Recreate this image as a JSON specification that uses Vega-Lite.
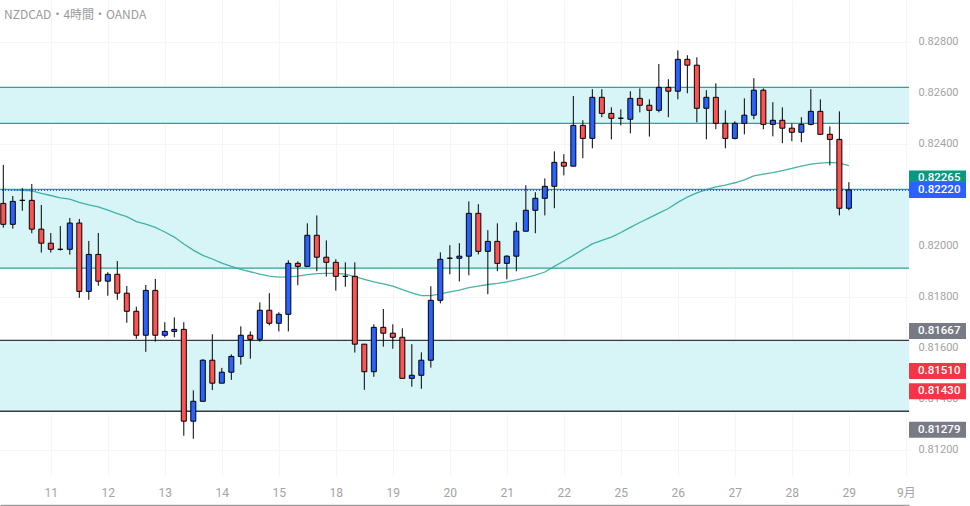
{
  "$schema": "https://vega.github.io/schema/vega-lite/v6.json",
  "width": 909,
  "height": 476,
  "autosize": {"type": "none"},
  "padding": {"left": 0, "top": 0, "right": 61, "bottom": 30},
  "background": "#ffffff",
  "title": {
    "text": "NZDCAD・4時間・OANDA",
    "anchor": "start",
    "frame": "group",
    "orient": "top",
    "offset": -22,
    "dx": 4,
    "font": "Noto Sans CJK JP",
    "fontSize": 12,
    "fontWeight": "normal",
    "color": "#9a9a9a"
  },
  "config": {
    "view": {"stroke": null},
    "axis": {
      "labelFont": "Roboto, Noto Sans CJK JP",
      "labelFontSize": 11,
      "labelColor": "#a3a3a3",
      "ticks": false,
      "tickSize": 0,
      "title": null,
      "gridColor": "#f4f5f7",
      "labelOverlap": false,
      "labelFlush": false
    }
  },
  "datasets": {
    "candles": [
      {"i": 0, "o": 0.82167, "h": 0.82318, "l": 0.82072, "c": 0.82085, "ma": 0.82222},
      {"i": 1, "o": 0.82085, "h": 0.82196, "l": 0.82068, "c": 0.82175, "ma": 0.8222},
      {"i": 2, "o": 0.82179, "h": 0.82227, "l": 0.82138, "c": 0.82179, "ma": 0.82218},
      {"i": 3, "o": 0.82179, "h": 0.82243, "l": 0.8205, "c": 0.82066, "ma": 0.82216},
      {"i": 4, "o": 0.82066, "h": 0.82161, "l": 0.81974, "c": 0.82011, "ma": 0.82206},
      {"i": 5, "o": 0.82011, "h": 0.82051, "l": 0.81974, "c": 0.81987, "ma": 0.82198},
      {"i": 6, "o": 0.81987, "h": 0.82078, "l": 0.81982, "c": 0.81987, "ma": 0.82189},
      {"i": 7, "o": 0.81987, "h": 0.8211, "l": 0.81966, "c": 0.8209, "ma": 0.82184},
      {"i": 8, "o": 0.8209, "h": 0.82106, "l": 0.81797, "c": 0.81822, "ma": 0.82171},
      {"i": 9, "o": 0.81822, "h": 0.8202, "l": 0.81789, "c": 0.81967, "ma": 0.82161},
      {"i": 10, "o": 0.81967, "h": 0.82051, "l": 0.81844, "c": 0.81862, "ma": 0.82153},
      {"i": 11, "o": 0.81862, "h": 0.81897, "l": 0.81805, "c": 0.81889, "ma": 0.82141},
      {"i": 12, "o": 0.81889, "h": 0.81941, "l": 0.81789, "c": 0.81815, "ma": 0.82127},
      {"i": 13, "o": 0.81815, "h": 0.81843, "l": 0.81699, "c": 0.81744, "ma": 0.82115},
      {"i": 14, "o": 0.81744, "h": 0.81762, "l": 0.81636, "c": 0.8165, "ma": 0.82096},
      {"i": 15, "o": 0.8165, "h": 0.81847, "l": 0.81585, "c": 0.81826, "ma": 0.82086},
      {"i": 16, "o": 0.81826, "h": 0.81871, "l": 0.81625, "c": 0.8165, "ma": 0.82073},
      {"i": 17, "o": 0.8165, "h": 0.81701, "l": 0.81642, "c": 0.81665, "ma": 0.82055},
      {"i": 18, "o": 0.81665, "h": 0.8172, "l": 0.81642, "c": 0.81673, "ma": 0.82035},
      {"i": 19, "o": 0.81673, "h": 0.81701, "l": 0.81256, "c": 0.81313, "ma": 0.82008},
      {"i": 20, "o": 0.81313, "h": 0.81434, "l": 0.81244, "c": 0.81391, "ma": 0.81984},
      {"i": 21, "o": 0.81391, "h": 0.81556, "l": 0.81391, "c": 0.81552, "ma": 0.81963},
      {"i": 22, "o": 0.81552, "h": 0.81654, "l": 0.81435, "c": 0.81462, "ma": 0.81949},
      {"i": 23, "o": 0.81462, "h": 0.81522, "l": 0.81462, "c": 0.81505, "ma": 0.81933},
      {"i": 24, "o": 0.81505, "h": 0.81575, "l": 0.81475, "c": 0.81567, "ma": 0.8192},
      {"i": 25, "o": 0.81567, "h": 0.81685, "l": 0.81535, "c": 0.8165, "ma": 0.81908},
      {"i": 26, "o": 0.8165, "h": 0.81665, "l": 0.81558, "c": 0.81634, "ma": 0.81899},
      {"i": 27, "o": 0.81634, "h": 0.81779, "l": 0.81625, "c": 0.81748, "ma": 0.8189},
      {"i": 28, "o": 0.81748, "h": 0.81815, "l": 0.81689, "c": 0.81697, "ma": 0.81882},
      {"i": 29, "o": 0.81697, "h": 0.8174, "l": 0.81665, "c": 0.81732, "ma": 0.81878},
      {"i": 30, "o": 0.81732, "h": 0.81944, "l": 0.81665, "c": 0.81932, "ma": 0.81879},
      {"i": 31, "o": 0.81932, "h": 0.8194, "l": 0.81846, "c": 0.8192, "ma": 0.81882},
      {"i": 32, "o": 0.8192, "h": 0.82089, "l": 0.8192, "c": 0.82042, "ma": 0.81888},
      {"i": 33, "o": 0.82042, "h": 0.8212, "l": 0.81901, "c": 0.81956, "ma": 0.81892},
      {"i": 34, "o": 0.81956, "h": 0.82022, "l": 0.8188, "c": 0.81936, "ma": 0.81893},
      {"i": 35, "o": 0.81936, "h": 0.81948, "l": 0.81825, "c": 0.81881, "ma": 0.81893},
      {"i": 36, "o": 0.81881, "h": 0.81936, "l": 0.8184, "c": 0.81881, "ma": 0.8189},
      {"i": 37, "o": 0.81881, "h": 0.81936, "l": 0.81582, "c": 0.81615, "ma": 0.8188},
      {"i": 38, "o": 0.81615, "h": 0.81615, "l": 0.81436, "c": 0.81507, "ma": 0.81869},
      {"i": 39, "o": 0.81507, "h": 0.81693, "l": 0.81487, "c": 0.81681, "ma": 0.81859},
      {"i": 40, "o": 0.81681, "h": 0.81753, "l": 0.81605, "c": 0.81658, "ma": 0.81851},
      {"i": 41, "o": 0.81658, "h": 0.81693, "l": 0.81597, "c": 0.81642, "ma": 0.81843},
      {"i": 42, "o": 0.81642, "h": 0.81677, "l": 0.81481, "c": 0.81481, "ma": 0.81829},
      {"i": 43, "o": 0.81481, "h": 0.81615, "l": 0.81448, "c": 0.81493, "ma": 0.81816},
      {"i": 44, "o": 0.81493, "h": 0.81583, "l": 0.8144, "c": 0.81552, "ma": 0.81805},
      {"i": 45, "o": 0.81552, "h": 0.81842, "l": 0.81523, "c": 0.81787, "ma": 0.81805},
      {"i": 46, "o": 0.81787, "h": 0.81975, "l": 0.81775, "c": 0.81948, "ma": 0.81812},
      {"i": 47, "o": 0.81952, "h": 0.82003, "l": 0.81889, "c": 0.81952, "ma": 0.8182},
      {"i": 48, "o": 0.81952, "h": 0.82011, "l": 0.81861, "c": 0.8196, "ma": 0.81827},
      {"i": 49, "o": 0.8196, "h": 0.82175, "l": 0.81885, "c": 0.82128, "ma": 0.81837},
      {"i": 50, "o": 0.82128, "h": 0.82164, "l": 0.81967, "c": 0.81979, "ma": 0.81843},
      {"i": 51, "o": 0.81979, "h": 0.82062, "l": 0.81811, "c": 0.82018, "ma": 0.81849},
      {"i": 52, "o": 0.82018, "h": 0.82089, "l": 0.81901, "c": 0.81932, "ma": 0.81853},
      {"i": 53, "o": 0.81932, "h": 0.81964, "l": 0.81869, "c": 0.8196, "ma": 0.81859},
      {"i": 54, "o": 0.8196, "h": 0.82093, "l": 0.81901, "c": 0.82058, "ma": 0.81867},
      {"i": 55, "o": 0.82058, "h": 0.82238, "l": 0.82058, "c": 0.8214, "ma": 0.81876},
      {"i": 56, "o": 0.8214, "h": 0.82211, "l": 0.8205, "c": 0.82187, "ma": 0.81886},
      {"i": 57, "o": 0.82187, "h": 0.82265, "l": 0.8212, "c": 0.82234, "ma": 0.81898},
      {"i": 58, "o": 0.82234, "h": 0.82371, "l": 0.82148, "c": 0.82328, "ma": 0.8192},
      {"i": 59, "o": 0.82328, "h": 0.8236, "l": 0.82277, "c": 0.82313, "ma": 0.81941},
      {"i": 60, "o": 0.82313, "h": 0.82588, "l": 0.82313, "c": 0.82473, "ma": 0.81963},
      {"i": 61, "o": 0.82473, "h": 0.82493, "l": 0.82344, "c": 0.82422, "ma": 0.81986},
      {"i": 62, "o": 0.82422, "h": 0.82615, "l": 0.82383, "c": 0.82583, "ma": 0.82008},
      {"i": 63, "o": 0.82583, "h": 0.82615, "l": 0.82505, "c": 0.8252, "ma": 0.82022},
      {"i": 64, "o": 0.8252, "h": 0.82544, "l": 0.82418, "c": 0.82501, "ma": 0.82035},
      {"i": 65, "o": 0.82501, "h": 0.82536, "l": 0.82473, "c": 0.82501, "ma": 0.82053},
      {"i": 66, "o": 0.82497, "h": 0.82607, "l": 0.82442, "c": 0.82579, "ma": 0.82073},
      {"i": 67, "o": 0.82579, "h": 0.82618, "l": 0.82524, "c": 0.82552, "ma": 0.82092},
      {"i": 68, "o": 0.82552, "h": 0.82575, "l": 0.82429, "c": 0.82532, "ma": 0.8211},
      {"i": 69, "o": 0.82532, "h": 0.82714, "l": 0.82524, "c": 0.82622, "ma": 0.82129},
      {"i": 70, "o": 0.82622, "h": 0.82654, "l": 0.82505, "c": 0.82607, "ma": 0.82147},
      {"i": 71, "o": 0.82607, "h": 0.82767, "l": 0.82575, "c": 0.82732, "ma": 0.82171},
      {"i": 72, "o": 0.82732, "h": 0.82748, "l": 0.82599, "c": 0.82709, "ma": 0.82192},
      {"i": 73, "o": 0.82709, "h": 0.8274, "l": 0.82485, "c": 0.8254, "ma": 0.82208},
      {"i": 74, "o": 0.8254, "h": 0.82611, "l": 0.82418, "c": 0.82583, "ma": 0.82221},
      {"i": 75, "o": 0.82583, "h": 0.82638, "l": 0.82458, "c": 0.82481, "ma": 0.82232},
      {"i": 76, "o": 0.82481, "h": 0.82532, "l": 0.82383, "c": 0.82422, "ma": 0.82239},
      {"i": 77, "o": 0.82422, "h": 0.82489, "l": 0.82418, "c": 0.82481, "ma": 0.82248},
      {"i": 78, "o": 0.82481, "h": 0.82579, "l": 0.82438, "c": 0.82513, "ma": 0.82259},
      {"i": 79, "o": 0.82513, "h": 0.82658, "l": 0.82497, "c": 0.82611, "ma": 0.82275},
      {"i": 80, "o": 0.82611, "h": 0.82618, "l": 0.82458, "c": 0.82477, "ma": 0.82282},
      {"i": 81, "o": 0.82477, "h": 0.82564, "l": 0.8243, "c": 0.82493, "ma": 0.82288},
      {"i": 82, "o": 0.82493, "h": 0.82544, "l": 0.82403, "c": 0.82462, "ma": 0.82296},
      {"i": 83, "o": 0.82462, "h": 0.82481, "l": 0.82411, "c": 0.82446, "ma": 0.82304},
      {"i": 84, "o": 0.82446, "h": 0.82505, "l": 0.82407, "c": 0.82477, "ma": 0.82313},
      {"i": 85, "o": 0.82477, "h": 0.82615, "l": 0.82473, "c": 0.82528, "ma": 0.82321},
      {"i": 86, "o": 0.82528, "h": 0.82575, "l": 0.82438, "c": 0.82438, "ma": 0.82325},
      {"i": 87, "o": 0.82438, "h": 0.82469, "l": 0.82316, "c": 0.82418, "ma": 0.82328},
      {"i": 88, "o": 0.82418, "h": 0.82528, "l": 0.8212, "c": 0.82148, "ma": 0.82325},
      {"i": 89, "o": 0.82148, "h": 0.8225, "l": 0.8214, "c": 0.8222, "ma": 0.82315}
    ],
    "zones": [
      {"top": 0.82622, "bottom": 0.82481},
      {"top": 0.82222, "bottom": 0.81913},
      {"top": 0.8163, "bottom": 0.81352}
    ],
    "levels": [
      {"price": 0.82622, "kind": "upper"},
      {"price": 0.82481, "kind": "upper"},
      {"price": 0.82222, "kind": "upper"},
      {"price": 0.81913, "kind": "upper"},
      {"price": 0.8163, "kind": "lower"},
      {"price": 0.81352, "kind": "lower"}
    ],
    "badges": [
      {"price": 0.82265, "label": "0.82265", "kind": "average"},
      {"price": 0.8222, "label": "0.82220", "kind": "last"},
      {"price": 0.81667, "label": "0.81667", "kind": "level"},
      {"price": 0.8151, "label": "0.81510", "kind": "target"},
      {"price": 0.8143, "label": "0.81430", "kind": "target"},
      {"price": 0.81279, "label": "0.81279", "kind": "level"}
    ]
  },
  "layer": [
    {
      "data": {"name": "zones"},
      "mark": {"type": "rect", "color": "#d7f4f7"},
      "encoding": {
        "y": {
          "field": "top",
          "type": "quantitative",
          "scale": {"domain": [0.81098, 0.829647], "nice": false, "zero": false},
          "axis": {
            "orient": "right",
            "values": [0.812, 0.814, 0.816, 0.818, 0.82, 0.824, 0.826, 0.828],
            "format": ".5f",
            "domain": false,
            "labelPadding": 9,
            "labelBaseline": "middle",
            "grid": true
          }
        },
        "y2": {"field": "bottom"}
      }
    },
    {
      "data": {"name": "levels"},
      "mark": {"type": "rule", "strokeWidth": 1.3},
      "encoding": {
        "y": {
          "field": "price",
          "type": "quantitative",
          "scale": {"domain": [0.81098, 0.829647], "nice": false, "zero": false}
        },
        "stroke": {
          "field": "kind",
          "type": "nominal",
          "scale": {"domain": ["upper", "lower"], "range": ["#26a69a", "#363a45"]},
          "legend": null
        }
      }
    },
    {
      "data": {"name": "candles"},
      "mark": {"type": "line", "color": "#26a69a", "strokeWidth": 1.3, "opacity": 0.85},
      "encoding": {
        "x": {
          "field": "i",
          "type": "quantitative",
          "scale": {"domain": [-0.347, 95.33], "nice": false, "zero": false, "padding": 0},
          "axis": {
            "orient": "bottom",
            "offset": 29,
            "values": [5, 11, 17, 23, 29, 35, 41, 47, 53, 59, 65, 71, 77, 83, 89, 95],
            "labelExpr": "['11','12','13','14','15','18','19','20','21','22','25','26','27','28','29','9月'][(datum.value - 5) / 6]",
            "domainColor": "#9e9e9e",
            "domainWidth": 1.5,
            "labelPadding": -13,
            "labelBaseline": "middle",
            "labelFontSize": 12,
            "grid": true
          }
        },
        "y": {
          "field": "ma",
          "type": "quantitative",
          "scale": {"domain": [0.81098, 0.829647], "nice": false, "zero": false}
        }
      }
    },
    {
      "data": {"name": "candles"},
      "mark": {"type": "rule", "strokeDash": [1, 2], "color": "#2962ff", "strokeWidth": 1},
      "encoding": {
        "y": {
          "datum": 0.8222,
          "type": "quantitative",
          "scale": {"domain": [0.81098, 0.829647], "nice": false, "zero": false}
        }
      }
    },
    {
      "data": {"name": "candles"},
      "mark": {"type": "rule", "color": "#000000", "strokeWidth": 1},
      "encoding": {
        "x": {"field": "i", "type": "quantitative", "scale": {"domain": [-0.347, 95.33], "nice": false, "zero": false, "padding": 0}},
        "y": {
          "field": "l",
          "type": "quantitative",
          "scale": {"domain": [0.81098, 0.829647], "nice": false, "zero": false}
        },
        "y2": {"field": "h"}
      }
    },
    {
      "data": {"name": "candles"},
      "mark": {"type": "bar", "width": 5, "stroke": "#000000", "strokeWidth": 1},
      "encoding": {
        "x": {"field": "i", "type": "quantitative", "scale": {"domain": [-0.347, 95.33], "nice": false, "zero": false, "padding": 0}},
        "y": {
          "field": "o",
          "type": "quantitative",
          "scale": {"domain": [0.81098, 0.829647], "nice": false, "zero": false}
        },
        "y2": {"field": "c"},
        "fill": {
          "condition": {"test": "datum.c >= datum.o", "value": "#2962ff"},
          "value": "#ff5252"
        }
      }
    },
    {
      "data": {"name": "badges"},
      "mark": {"type": "point", "filled": true, "opacity": 1, "strokeWidth": 0, "shape": "M-1,-0.2807H1V0.2807H-1Z", "size": 3249, "clip": false},
      "encoding": {
        "x": {"datum": 98.33, "type": "quantitative", "scale": {"domain": [-0.347, 95.33], "nice": false, "zero": false, "padding": 0}},
        "y": {
          "field": "price",
          "type": "quantitative",
          "scale": {"domain": [0.81098, 0.829647], "nice": false, "zero": false}
        },
        "yOffset": {"condition": {"test": "datum.kind === 'average'", "value": -5}, "value": 0},
        "fill": {
          "field": "kind",
          "type": "nominal",
          "scale": {"domain": ["average", "last", "level", "target"], "range": ["#089981", "#2962ff", "#787b86", "#f23645"]},
          "legend": null
        }
      }
    },
    {
      "data": {"name": "badges"},
      "mark": {"type": "text", "align": "left", "baseline": "middle", "color": "#ffffff", "font": "Roboto", "fontSize": 11.5, "fontWeight": 500, "clip": false},
      "encoding": {
        "x": {"datum": 96.28, "type": "quantitative", "scale": {"domain": [-0.347, 95.33], "nice": false, "zero": false, "padding": 0}},
        "y": {
          "field": "price",
          "type": "quantitative",
          "scale": {"domain": [0.81098, 0.829647], "nice": false, "zero": false}
        },
        "yOffset": {"condition": {"test": "datum.kind === 'average'", "value": -5}, "value": 0},
        "text": {"field": "label"}
      }
    }
  ]
}
